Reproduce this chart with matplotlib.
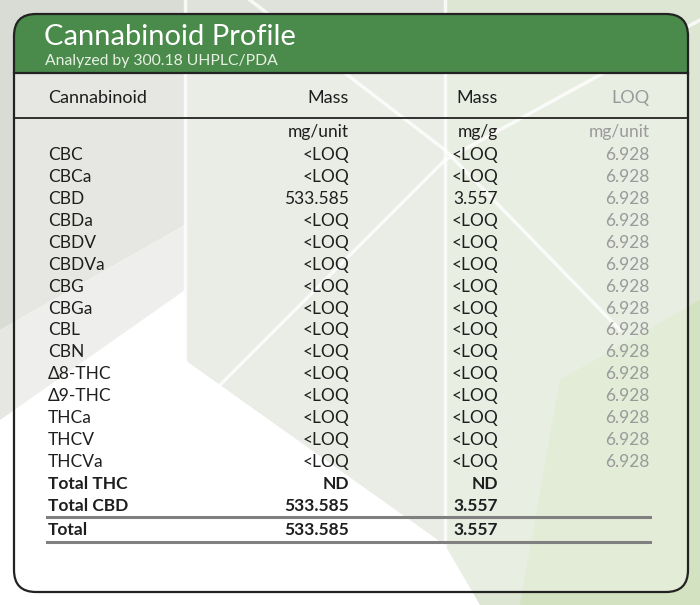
import matplotlib.pyplot as plt
from matplotlib.patches import FancyBboxPatch, Rectangle, Polygon

plt.rcParams['font.family'] = ['Lato', 'DejaVu Sans']

# table contents
title = 'Cannabinoid Profile'
subtitle = 'Analyzed by 300.18 UHPLC/PDA'
col_heads = ['Cannabinoid', 'Mass', 'Mass', 'LOQ']
units = ['', 'mg/unit', 'mg/g', 'mg/unit']

names = ['CBC', 'CBCa', 'CBD', 'CBDa', 'CBDV', 'CBDVa', 'CBG', 'CBGa',
         'CBL', 'CBN', '\u03948-THC', '\u03949-THC', 'THCa', 'THCV', 'THCVa']
mass_unit = ['<LOQ', '<LOQ', '533.585', '<LOQ', '<LOQ', '<LOQ', '<LOQ', '<LOQ',
             '<LOQ', '<LOQ', '<LOQ', '<LOQ', '<LOQ', '<LOQ', '<LOQ']
mass_g = ['<LOQ', '<LOQ', '3.557', '<LOQ', '<LOQ', '<LOQ', '<LOQ', '<LOQ',
          '<LOQ', '<LOQ', '<LOQ', '<LOQ', '<LOQ', '<LOQ', '<LOQ']
loq = ['6.928', '6.928', '6.928', '6.928', '6.928', '6.928', '6.928', '6.928',
       '6.928', '6.928', '6.928', '6.928', '6.928', '6.928', '6.928']

total_names = ['Total THC', 'Total CBD', 'Total']
total_unit = ['ND', '533.585', '533.585']
total_g = ['ND', '3.557', '3.557']

fig = plt.figure(figsize=(7, 6.05), dpi=100)
ax = fig.add_axes([0, 0, 1, 1])
ax.set_xlim(0, 700)
ax.set_ylim(605, 0)
ax.axis('off')

# rough geometric background
bg = [
    ([(0, 0), (250, 0), (185, 120), (185, 225), (0, 330)], '#d9dbd5'),
    ([(185, 0), (445, 0), (445, 545), (185, 360)], '#dfe2da'),
    ([(445, 0), (700, 0), (700, 605), (480, 605), (445, 545)], '#dde5d3'),
    ([(0, 330), (185, 225), (185, 290), (0, 420)], '#e6e7e3'),
    ([(560, 380), (700, 300), (700, 605), (520, 605)], '#d3e2c1'),
]
for pts, c in bg:
    ax.add_patch(Polygon(pts, closed=True, fc=c, ec='none', zorder=0))
for xs, ys in [([185, 445], [420, 160]), ([445, 700], [160, 20]),
               ([250, 445], [0, 150]), ([445, 620], [150, 330]),
               ([185, 185], [0, 360]), ([445, 445], [0, 545])]:
    ax.plot(xs, ys, color='white', lw=2.5, alpha=0.8, zorder=0.5)

# panel
panel = FancyBboxPatch((14, 14), 674, 578, boxstyle='round,pad=0,rounding_size=22',
                       fc='white', ec='none', alpha=0.35, zorder=1)
ax.add_patch(panel)
head = Rectangle((0, 0), 700, 73, fc='#4a8a4b', ec='none', zorder=2)
ax.add_patch(head)
head.set_clip_path(panel)
ax.add_patch(FancyBboxPatch((14, 14), 674, 578, boxstyle='round,pad=0,rounding_size=22',
                            fc='none', ec='#222222', lw=1.6, zorder=5))

ax.text(44, 37, title, color='white', fontsize=21, va='center', zorder=6)
ax.text(45, 61, subtitle, color='#e8f0e4', fontsize=11.3, va='center', zorder=6)

ax.plot([14, 688], [73, 73], color='#222222', lw=1.6, zorder=5)
ax.plot([14, 688], [118, 118], color='#222222', lw=1.3, zorder=5)

col_x = [48, 349, 498, 650]
col_ha = ['left', 'right', 'right', 'right']
col_c = ['#1e1e1e', '#1e1e1e', '#1e1e1e', '#9a9a9a']

for j in range(4):
    ax.text(col_x[j], 98, col_heads[j], ha=col_ha[j], va='center',
            fontsize=13, color=col_c[j], zorder=6)
    ax.text(col_x[j], 132, units[j], ha=col_ha[j], va='center',
            fontsize=12.5, color=col_c[j], zorder=6)

y0, dy = 155, 21.93
for i in range(len(names)):
    y = y0 + i * dy
    row = [names[i], mass_unit[i], mass_g[i], loq[i]]
    for j in range(4):
        ax.text(col_x[j], y, row[j], ha=col_ha[j], va='center',
                fontsize=12.5, color=col_c[j], zorder=6)

total_y = [484, 506, 530]
for i in range(len(total_names)):
    row = [total_names[i], total_unit[i], total_g[i]]
    for j in range(3):
        ax.text(col_x[j], total_y[i], row[j], ha=col_ha[j], va='center',
                fontsize=12.5, fontweight='bold', color='#1e1e1e', zorder=6)

for y in [517, 542]:
    ax.plot([47, 650], [y, y], color='#808080', lw=2.2, zorder=5)

fig.savefig('out.png', dpi=100)
